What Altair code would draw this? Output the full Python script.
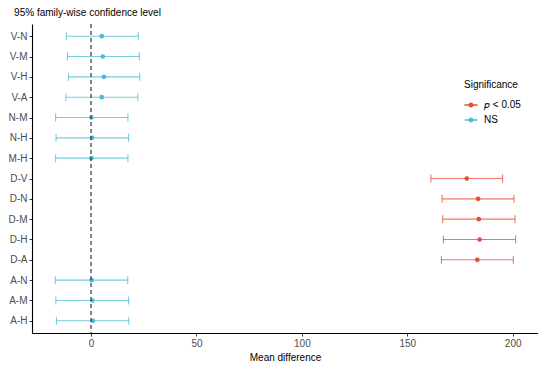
import altair as alt
import pandas as pd

comparisons = ["V-N", "V-M", "V-H", "V-A", "N-M", "N-H", "M-H", "D-V",
               "D-N", "D-M", "D-H", "D-A", "A-N", "A-M", "A-H"]
mean_diff = [5.1, 5.6, 6.1, 5.1, 0.2, 0.5, 0.2, 178.2,
             183.6, 183.9, 184.3, 183.2, 0.3, 0.6, 0.9]
lower = [-11.7, -11.2, -10.7, -11.9, -16.8, -16.6, -16.8, 161.2,
         166.5, 166.8, 167.1, 166.2, -17.0, -16.7, -16.4]
upper = [22.4, 22.9, 23.1, 22.2, 17.5, 17.8, 17.5, 195.2,
         200.6, 201.1, 201.4, 200.3, 17.4, 17.8, 17.9]
significance = ["NS", "NS", "NS", "NS", "NS", "NS", "NS", "p < 0.05",
                "p < 0.05", "p < 0.05", "p < 0.05", "p < 0.05", "NS", "NS", "NS"]
sig_levels = ["p < 0.05", "NS"]
sig_labels = ["\U0001D45D < 0.05", "NS"]
sig_colors = ["#E64B35", "#4DBBD5"]
x_ticks = [0, 50, 100, 150, 200]
zero_line = [0]

df = pd.DataFrame({"comp": comparisons, "diff": mean_diff, "lwr": lower,
                   "upr": upper, "sig": significance})

FONT = "Liberation Sans"
label_expr = "datum.label == 'p < 0.05' ? '" + sig_labels[0] + "' : datum.label"
color = alt.Color("sig:N", scale=alt.Scale(domain=sig_levels, range=sig_colors),
                  legend=alt.Legend(
                      title="Significance", orient="none", legendX=432, legendY=56,
                      symbolType="M-1,-0.1H1V0.1H-1Z M0.38,0A0.38,0.38 0 1 1 -0.38,0A0.38,0.38 0 1 1 0.38,0Z",
                      symbolSize=170, symbolStrokeWidth=0, symbolOpacity=1,
                      titleFontSize=10, labelFontSize=10, titleFont=FONT, labelFont=FONT,
                      titleFontWeight="normal", titleColor="#000000", labelColor="#000000",
                      titlePadding=8, rowPadding=3, padding=0, labelOffset=6,
                      labelExpr=label_expr))

xscale = alt.Scale(domain=[-28, 212], nice=False, zero=False)
yscale = alt.Scale(type="point", domain=comparisons, padding=0.6)

x_axis = alt.Axis(values=x_ticks, grid=False, domainColor="#000000",
                  tickColor="#333333", labelColor="#4D4D4D", labelFontSize=10,
                  labelFont=FONT, titleFont=FONT, titleFontSize=10,
                  titleFontWeight="normal", titleColor="#000000", tickSize=3,
                  labelPadding=2, titlePadding=4, domainWidth=1.1)
y_axis = alt.Axis(grid=False, domainColor="#000000", tickColor="#333333",
                  labelColor="#4D4D4D", labelFontSize=10, labelFont=FONT,
                  tickSize=3, labelPadding=2, domainWidth=1.1)


def xq(field):
    return alt.X(field, scale=xscale, title="Mean difference", axis=x_axis)


y_enc = alt.Y("comp:N", scale=yscale, title=None, sort=comparisons, axis=y_axis)

base = alt.Chart(df)
rules = base.mark_rule(strokeWidth=1.1, opacity=0.75).encode(
    x=xq("lwr:Q"), x2="upr:Q", y=y_enc, color=color)
ticks_lo = base.mark_tick(size=8, thickness=1.1, opacity=0.75).encode(
    x=xq("lwr:Q"), y=y_enc, color=color)
ticks_hi = base.mark_tick(size=8, thickness=1.1, opacity=0.75).encode(
    x=xq("upr:Q"), y=y_enc, color=color)
points = base.mark_point(filled=True, size=22, opacity=1).encode(
    x=xq("diff:Q"), y=y_enc, color=color)
vline = alt.Chart(pd.DataFrame({"x": zero_line})).mark_rule(
    strokeDash=[4, 3], color="#333333", strokeWidth=1.2).encode(
    x=xq("x:Q"))

chart = alt.layer(rules, ticks_lo, ticks_hi, points, vline).properties(
    width=530, height=354,
    autosize=alt.AutoSizeParams(type="fit", contains="padding"),
    padding=0,
    background="white",
    title=alt.TitleParams("95% family-wise confidence level", anchor="start",
                          frame="bounds", fontSize=10, font=FONT, fontWeight="normal",
                          color="#000000", offset=5, dx=6)
).configure_view(stroke="transparent", strokeWidth=0)

chart.save("out.html", embed_options={"renderer": "svg", "actions": False})
